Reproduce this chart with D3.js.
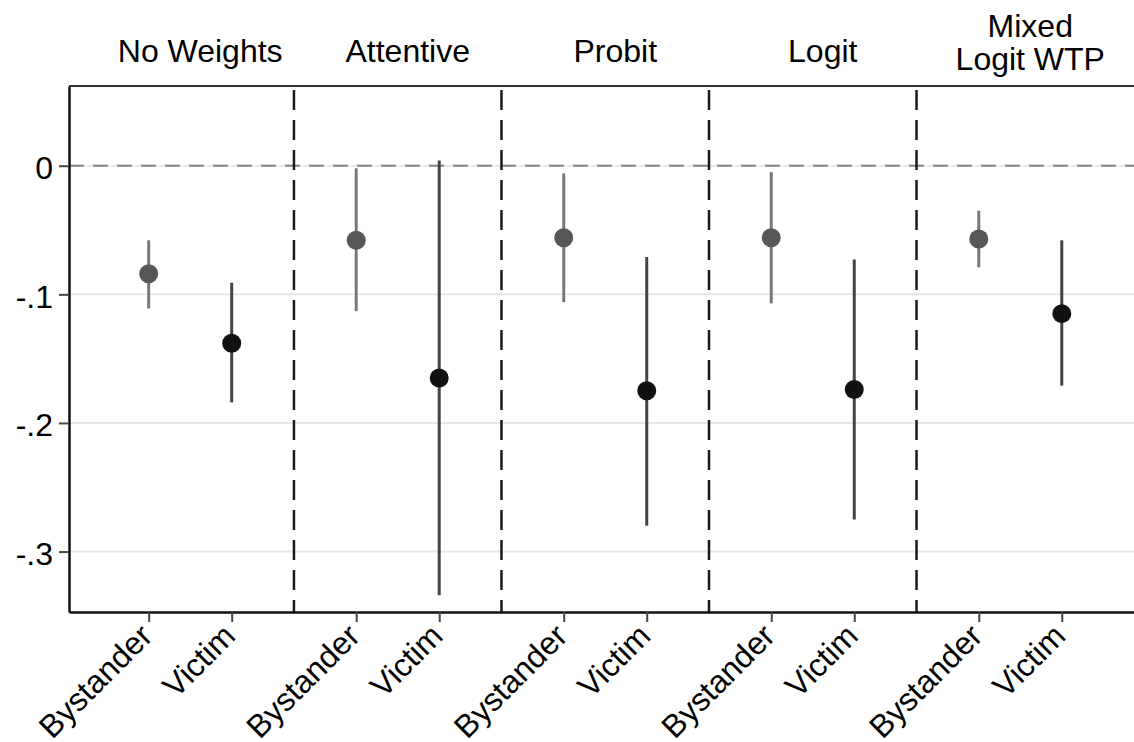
<!DOCTYPE html>
<html lang="en">
<head>
  <meta charset="UTF-8" />
  <script src="https://d3js.org/d3.v7.min.js"></script>
  <title>Bystander vs Victim</title>
  <style>
    body { margin: 0; background: #fff; }
    text { font-family: "Liberation Sans", Arial, sans-serif; }
  </style>
</head>
<body>
<script type="text/javascript">
	var width = 1134; var height = 742;

	// panel titles (one array per line)
	var panels = [["No Weights"], ["Attentive"], ["Probit"], ["Logit"], ["Mixed", "Logit WTP"]];
	var groups = ["Bystander", "Victim"];

	// point estimates and 95% CI, one entry per panel
	var bystanderEst = [-0.084, -0.058, -0.056, -0.056, -0.057];
	var bystanderLo  = [-0.111, -0.113, -0.106, -0.107, -0.079];
	var bystanderHi  = [-0.058, -0.002, -0.006, -0.005, -0.035];
	var victimEst    = [-0.138, -0.165, -0.175, -0.174, -0.115];
	var victimLo     = [-0.184, -0.334, -0.280, -0.275, -0.171];
	var victimHi     = [-0.091,  0.004, -0.071, -0.073, -0.058];

	var yTicks = [0, -0.1, -0.2, -0.3];
	var yTickLabels = ["0", "-.1", "-.2", "-.3"];

	var plotLeft = 69, plotRight = 1134, plotTop = 86, plotBottom = 612;

	var svg = d3.select("body").append("svg").attr("width", width).attr("height", height);

	var x = d3.scaleLinear().domain([-0.96, 11.87]).range([plotLeft, plotRight]);
	var y = d3.scaleLinear().domain([-0.347, 0.062]).range([plotBottom, plotTop]);

	// build rows from the arrays
	var rows = [];
	panels.forEach(function(p, g){
		rows.push({g: g, k: 0, est: bystanderEst[g], lo: bystanderLo[g], hi: bystanderHi[g]});
		rows.push({g: g, k: 1, est: victimEst[g], lo: victimLo[g], hi: victimHi[g]});
	});
	function pos(d){ return d.g * 2.5 + d.k; }

	// gridlines
	svg.append("g").selectAll("line").data(yTicks).enter().append("line")
		.attr("x1", plotLeft).attr("x2", plotRight)
		.attr("y1", function(d){return y(d);}).attr("y2", function(d){return y(d);})
		.attr("stroke", "#e6e6e6").attr("stroke-width", 2);

	// zero reference line
	svg.append("line").attr("x1", plotLeft).attr("x2", plotRight).attr("y1", y(0)).attr("y2", y(0))
		.attr("stroke", "#858585").attr("stroke-width", 2).attr("stroke-dasharray", "15,9");

	// panel dividers
	var dividers = d3.range(panels.length - 1).map(function(g){ return g * 2.5 + 1.75; });
	svg.append("g").selectAll("line").data(dividers).enter().append("line")
		.attr("x1", function(d){return x(d);}).attr("x2", function(d){return x(d);})
		.attr("y1", plotTop + 4).attr("y2", plotBottom)
		.attr("stroke", "#1a1a1a").attr("stroke-width", 2.5).attr("stroke-dasharray", "20,10");

	// confidence intervals
	svg.append("g").selectAll("line").data(rows).enter().append("line")
		.attr("x1", function(d){return x(pos(d));}).attr("x2", function(d){return x(pos(d));})
		.attr("y1", function(d){return y(d.hi);}).attr("y2", function(d){return y(d.lo);})
		.attr("stroke", function(d){return d.k == 0 ? "#787878" : "#444";})
		.attr("stroke-width", 3);

	// point estimates
	svg.append("g").selectAll("circle").data(rows).enter().append("circle")
		.attr("cx", function(d){return x(pos(d));}).attr("cy", function(d){return y(d.est);})
		.attr("r", 9.5)
		.attr("fill", function(d){return d.k == 0 ? "#575757" : "#111";});

	// y axis
	var yAxis = d3.axisLeft(y).tickValues(yTicks).tickSizeInner(10).tickSizeOuter(0).tickPadding(6)
		.tickFormat(function(d, i){ return yTickLabels[i]; });
	var yg = svg.append("g").attr("transform", "translate(" + plotLeft + ",0)").call(yAxis);
	yg.select(".domain").attr("stroke", "#111").attr("stroke-width", 2.5);
	yg.selectAll(".tick line").attr("stroke", "#444").attr("stroke-width", 2);
	yg.selectAll(".tick text").attr("font-size", 32).attr("fill", "#000").attr("dy", "0.4em");

	// x axis
	var xAxis = d3.axisBottom(x).tickValues(rows.map(pos)).tickSizeInner(10).tickSizeOuter(0)
		.tickFormat(function(d, i){ return groups[i % 2]; });
	var xg = svg.append("g").attr("transform", "translate(0," + plotBottom + ")").call(xAxis);
	xg.select(".domain").attr("stroke", "#111").attr("stroke-width", 2.5);
	xg.selectAll(".tick line").attr("stroke", "#444").attr("stroke-width", 2);
	xg.selectAll(".tick text").attr("font-size", 32).attr("fill", "#000")
		.attr("text-anchor", "end").attr("y", 0).attr("dy", 0)
		.attr("transform", "translate(5,26) rotate(-45)");

	// top border
	svg.append("line").attr("x1", plotLeft).attr("x2", plotRight).attr("y1", plotTop).attr("y2", plotTop)
		.attr("stroke", "#333").attr("stroke-width", 2);

	// panel titles
	svg.append("g").selectAll("text").data(panels).enter().append("text")
		.attr("x", function(d, g){ return x(g * 2.5 + 0.5) + 10; })
		.attr("y", function(d){ return d.length > 1 ? 37 : 62; })
		.attr("text-anchor", "middle").attr("font-size", 32).attr("fill", "#000")
		.each(function(d){
			var t = d3.select(this);
			d.forEach(function(line, i){
				t.append("tspan").attr("x", t.attr("x")).attr("dy", i == 0 ? 0 : 33).text(line);
			});
		});
</script>
</body>
</html>
